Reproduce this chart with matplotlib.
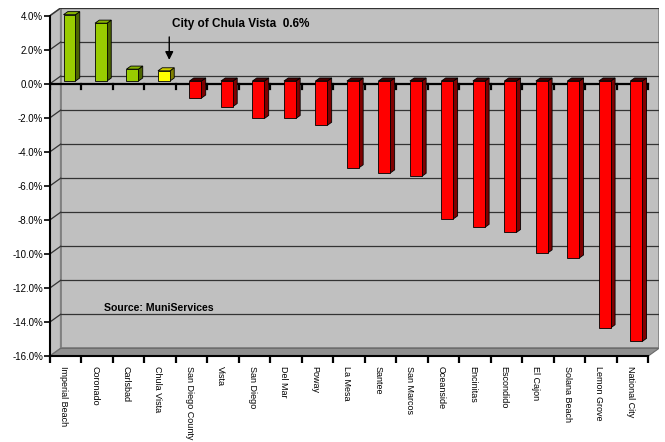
import matplotlib
matplotlib.use('Agg')
import matplotlib.pyplot as plt
from matplotlib.patches import Polygon
import numpy as np

# sales tax change by city (%)
cities = ['Imperial Beach', 'Coronado', 'Carlsbad', 'Chula Vista', 'San Diego County',
          'Vista', 'San Diego', 'Del Mar', 'Poway', 'La Mesa', 'Santee', 'San Marcos',
          'Oceanside', 'Encinitas', 'Escondido', 'El Cajon', 'Solana Beach',
          'Lemon Grove', 'National City']
change = [3.9, 3.4, 0.7, 0.6, -1.0, -1.5, -2.2, -2.2, -2.6, -5.1, -5.4, -5.6,
          -8.1, -8.6, -8.9, -10.1, -10.4, -14.5, -15.3]
highlight = 'Chula Vista'
y_ticks = list(range(-16, 5, 2))

plt.rcParams['font.family'] = ['Liberation Sans', 'DejaVu Sans']

# fake 3d depth in data units
DX, DY = 0.34, 0.45
w = 0.38      # bar width
f = 0.35      # bar front offset (fraction of depth)
d = 0.4       # bar depth (fraction of depth)

n = len(cities)
ymin, ymax = y_ticks[0], y_ticks[-1]

fig = plt.figure(figsize=(6.65, 4.42), dpi=100)
ax = fig.add_axes([50 / 665, 86 / 442, 609 / 665, 348 / 442])
ax.set_xlim(-0.5, n - 0.5 + DX)
ax.set_ylim(ymin, ymax + DY)

# back wall, side wall, floor
ax.add_patch(Polygon([(-0.5 + DX, ymin + DY), (n - 0.5 + DX, ymin + DY),
                      (n - 0.5 + DX, ymax + DY), (-0.5 + DX, ymax + DY)],
                     closed=True, fc='#C0C0C0', ec='#808080', lw=1.2, zorder=0))
ax.add_patch(Polygon([(-0.5, ymin), (-0.5, ymax), (-0.5 + DX, ymax + DY), (-0.5 + DX, ymin + DY)],
                     closed=True, fc='#C0C0C0', ec='#808080', lw=1.2, zorder=0))
ax.add_patch(Polygon([(-0.5, ymin), (n - 0.5, ymin), (n - 0.5 + DX, ymin + DY), (-0.5 + DX, ymin + DY)],
                     closed=True, fc='#8F8F8F', ec='#6a6a6a', lw=0.8, zorder=0.5))

# gridlines on back wall + side wall
for yv in y_ticks[1:]:
    ax.plot([-0.5 + DX, n - 0.5 + DX], [yv + DY, yv + DY], color='#333333', lw=0.9, zorder=1)
    ax.plot([-0.5, -0.5 + DX], [yv, yv + DY], color='#333333', lw=0.9, zorder=1)

# zero axis line with ticks
ax.plot([-0.5, n - 0.5], [0, 0], color='black', lw=1.6, zorder=2)
for b in np.arange(-0.5, n, 1.0):
    ax.plot([b, b], [0, -0.3], color='black', lw=1.6, zorder=2)

# bars
fronts, sides, tops = [], [], []
for c, v in zip(cities, change):
    if c == highlight:
        fronts.append('#FFFF00'); sides.append('#808000'); tops.append('#CCCC00')
    elif v >= 0:
        fronts.append('#99CC00'); sides.append('#4D6600'); tops.append('#86B300')
    else:
        fronts.append('#FF0000'); sides.append('#800000'); tops.append('#4A0000')

x = np.arange(n)
x0 = x - w / 2 + f * DX
y0 = f * DY
ax.bar(x + f * DX, change, width=w, bottom=y0, color=fronts, edgecolor='black',
       linewidth=0.6, zorder=5)
for i, v in enumerate(change):
    xl, xr = x0[i], x0[i] + w
    side = [(xr, y0), (xr, y0 + v), (xr + d * DX, y0 + v + d * DY), (xr + d * DX, y0 + d * DY)]
    ax.add_patch(Polygon(side, closed=True, fc=sides[i], ec='black', lw=0.6, zorder=4))
    yt = y0 + max(v, 0)
    top = [(xl, yt), (xr, yt), (xr + d * DX, yt + d * DY), (xl + d * DX, yt + d * DY)]
    ax.add_patch(Polygon(top, closed=True, fc=tops[i], ec='black', lw=0.6, zorder=4))

# axes
for s in ['top', 'right']:
    ax.spines[s].set_visible(False)
ax.spines['left'].set_bounds(ymin, ymax)
ax.spines['bottom'].set_bounds(-0.5, n - 0.5)
ax.spines['left'].set_linewidth(1.5)
ax.spines['bottom'].set_linewidth(1.5)
ax.set_yticks(y_ticks)
ax.set_yticklabels([f'{v:.1f}%' for v in y_ticks], fontsize=7)
ax.tick_params(axis='y', length=4, width=1.2, pad=1)
ax.set_xticks(np.arange(-0.5, n, 1.0))
ax.set_xticklabels([])
ax.tick_params(axis='x', which='major', length=5, width=1.6)
ax.set_xticks(x - 0.08, minor=True)
ax.set_xticklabels(cities, minor=True, rotation=-90, fontsize=6.5, va='top', ha='center')
ax.tick_params(axis='x', which='minor', length=0, pad=7)

# annotations
hi = cities.index(highlight)
ax_x = hi + (f + d / 2) * DX + 0.1
ax.annotate('', xy=(ax_x, change[hi] + 0.8), xytext=(ax_x, 2.75),
            arrowprops=dict(arrowstyle='-|>', color='black', lw=1.0, mutation_scale=12,
                            shrinkA=0, shrinkB=0))
ax.text(3.38, 3.51, 'City of Chula Vista  0.6%', fontsize=8.5, fontweight='bold',
        ha='left', va='center')
ax.text(1.22, -13.19, 'Source: MuniServices', fontsize=7.6, fontweight='bold',
        ha='left', va='center', zorder=3)

fig.savefig('out.png', dpi=100)
